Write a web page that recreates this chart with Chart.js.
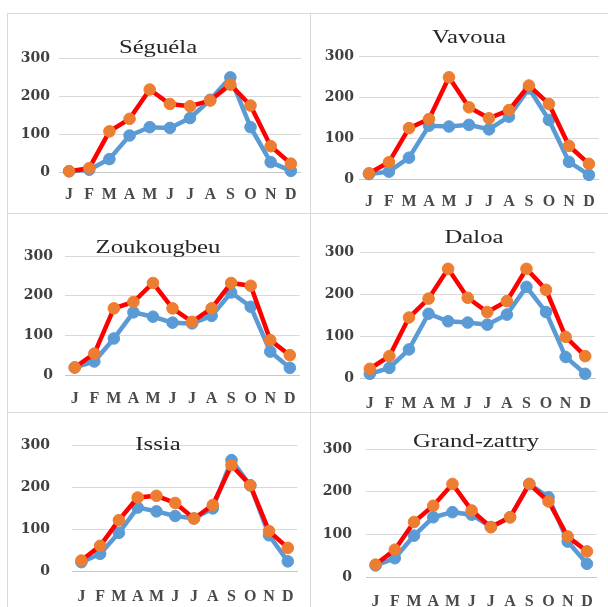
<!DOCTYPE html>
<html>
<head>
<meta charset="utf-8">
<script src="https://cdn.jsdelivr.net/npm/chart.js@4/dist/chart.umd.min.js"></script>
<style>
  html, body { margin: 0; padding: 0; background: #ffffff; }
  body { width: 608px; height: 607px; position: relative; overflow: hidden; }
  .rule { position: absolute; background: #d9d9d9; }
  canvas { position: absolute; }
</style>
</head>
<body>
<div class="rule" style="left:7px;top:13px;width:601px;height:1px"></div>
<div class="rule" style="left:7px;top:213px;width:601px;height:1px"></div>
<div class="rule" style="left:7px;top:412px;width:601px;height:1px"></div>
<div class="rule" style="left:7px;top:13px;width:1px;height:594px"></div>
<div class="rule" style="left:310px;top:13px;width:1px;height:594px"></div>

<canvas id="c1" width="302" height="199" style="left:8px;top:14px"></canvas>
<canvas id="c2" width="297" height="199" style="left:311px;top:14px"></canvas>
<canvas id="c3" width="302" height="198" style="left:8px;top:214px"></canvas>
<canvas id="c4" width="297" height="198" style="left:311px;top:214px"></canvas>
<canvas id="c5" width="302" height="194" style="left:8px;top:413px"></canvas>
<canvas id="c6" width="297" height="194" style="left:311px;top:413px"></canvas>

<script>
// Monthly values (mm) for each station, two series per station
const months = ['J', 'F', 'M', 'A', 'M', 'J', 'J', 'A', 'S', 'O', 'N', 'D'];
const yTicks = [0, 100, 200, 300];

const seguelaRed  = [2, 10, 107, 140, 217, 179, 173, 188, 230, 175, 68, 22];
const seguelaBlue = [2, 6, 34, 96, 118, 116, 142, 190, 249, 118, 26, 3];

const vavouaRed  = [14, 41, 124, 146, 248, 175, 148, 168, 228, 183, 81, 37];
const vavouaBlue = [12, 18, 52, 130, 128, 132, 121, 152, 221, 144, 42, 10];

const zoukougbeuRed  = [19, 54, 168, 184, 232, 168, 134, 168, 232, 225, 88, 50];
const zoukougbeuBlue = [19, 34, 92, 158, 147, 132, 130, 149, 208, 172, 59, 18];

const daloaRed  = [22, 52, 144, 189, 260, 191, 157, 183, 260, 210, 98, 52];
const daloaBlue = [10, 24, 68, 153, 135, 132, 127, 151, 217, 157, 50, 10];

const issiaRed  = [25, 60, 121, 175, 179, 162, 125, 157, 252, 204, 95, 55];
const issiaBlue = [21, 41, 91, 151, 142, 131, 125, 149, 264, 204, 85, 23];

const grandZattryRed  = [29, 64, 129, 167, 218, 156, 117, 140, 218, 177, 95, 60];
const grandZattryBlue = [27, 44, 97, 140, 152, 146, 117, 140, 218, 187, 83, 31];

// Station name drawn inside the plot, widened horizontally
const stationTitle = {
  id: 'stationTitle',
  afterDraw(chart, args, opts) {
    const ctx = chart.ctx;
    ctx.save();
    ctx.font = '19px "Liberation Serif", "Times New Roman", serif';
    ctx.fillStyle = '#262626';
    ctx.textAlign = 'center';
    ctx.textBaseline = 'middle';
    ctx.translate(opts.x, opts.y);
    ctx.scale(1.3, 1);
    ctx.fillText(opts.text, 0, 0);
    ctx.restore();
  }
};

function makePanel(id, name, red, blue, lay) {
  new Chart(document.getElementById(id), {
    type: 'line',
    data: {
      labels: months,
      datasets: [
        {
          label: 'Série 2',
          data: red,
          borderColor: '#ff0000',
          borderWidth: 4.5,
          backgroundColor: '#ed7d31',
          pointBackgroundColor: '#ed7d31',
          pointBorderColor: '#ed7d31',
          pointBorderWidth: 1,
          pointRadius: 5.8,
          tension: 0,
          clip: false
        },
        {
          label: 'Série 1',
          data: blue,
          borderColor: '#5b9bd5',
          borderWidth: 4.5,
          backgroundColor: '#5b9bd5',
          pointBackgroundColor: '#5b9bd5',
          pointBorderColor: '#5b9bd5',
          pointBorderWidth: 1,
          pointRadius: 5.8,
          tension: 0,
          clip: false
        }
      ]
    },
    options: {
      responsive: false,
      animation: false,
      events: [],
      layout: { padding: { top: lay.top, right: lay.right, bottom: lay.bottom, left: 0 } },
      plugins: {
        legend: { display: false },
        tooltip: { enabled: false },
        stationTitle: { text: name, x: lay.tx, y: lay.ty }
      },
      scales: {
        x: {
          offset: true,
          grid: { display: false, drawTicks: false },
          border: { display: true, color: '#c8c8c8', width: 1 },
          ticks: {
            padding: lay.xpad,
            color: '#4a4a4a',
            maxRotation: 0,
            autoSkip: false,
            font: { family: '"Liberation Serif", "Times New Roman", serif', size: 16, weight: 'bold' }
          },
          afterFit(s) { s.height = 30; }
        },
        y: {
          min: 0,
          max: 300,
          afterBuildTicks(s) { s.ticks = yTicks.map(v => ({ value: v })); },
          grid: { color: '#d9d9d9', lineWidth: 1, drawTicks: false },
          border: { display: false },
          ticks: {
            padding: lay.ypad,
            color: '#404040',
            font: { family: '"DejaVu Serif", serif', size: 14, weight: 'bold' }
          },
          afterFit(s) { s.width = lay.yw; }
        }
      }
    },
    plugins: [stationTitle]
  });
}

makePanel('c1', 'Séguéla', seguelaRed, seguelaBlue,
  { top: 44, right: 9, bottom: 11, yw: 51, ypad: 9, xpad: 13, tx: 150, ty: 34 });
makePanel('c2', 'Vavoua', vavouaRed, vavouaBlue,
  { top: 42, right: 7, bottom: 4, yw: 48, ypad: 5, xpad: 13, tx: 158, ty: 24 });
makePanel('c3', 'Zoukougbeu', zoukougbeuRed, zoukougbeuBlue,
  { top: 42, right: 10, bottom: 7, yw: 57, ypad: 12, xpad: 14, tx: 150, ty: 34 });
makePanel('c4', 'Daloa', daloaRed, daloaBlue,
  { top: 38, right: 13, bottom: 4, yw: 49, ypad: 6, xpad: 16, tx: 163, ty: 24 });
makePanel('c5', 'Issia', issiaRed, issiaBlue,
  { top: 32, right: 10, bottom: 6, yw: 64, ypad: 22, xpad: 16, tx: 150, ty: 32 });
makePanel('c6', 'Grand-zattry', grandZattryRed, grandZattryBlue,
  { top: 36, right: 7, bottom: 0, yw: 55, ypad: 14, xpad: 15, tx: 165, ty: 29 });
</script>
</body>
</html>
